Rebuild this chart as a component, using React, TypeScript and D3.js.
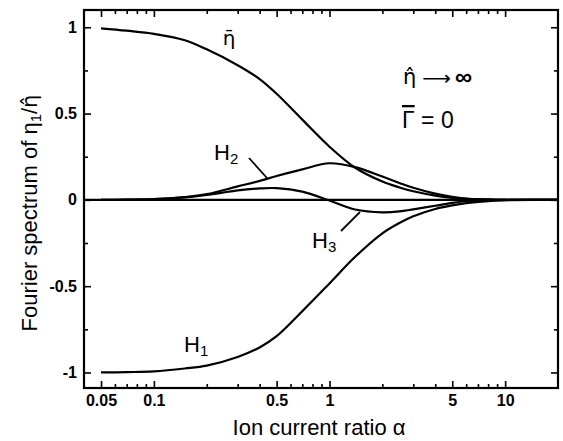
import React, { useEffect, useRef } from "react";
import * as d3 from "d3";

// ion current ratio (x), shared by all curves
const alpha = [0.05, 0.07, 0.1, 0.15, 0.2, 0.3, 0.4, 0.5, 0.7, 1, 1.4, 2, 2.5, 3, 4, 5, 6, 8, 10, 15, 20];

// Fourier spectrum components
const etaBar = [0.994, 0.98, 0.962, 0.925, 0.872, 0.78, 0.7, 0.615, 0.465, 0.308, 0.186, 0.106, 0.072, 0.05, 0.025, 0.012, 0.006, 0.002, 0.0, 0.0, 0.0];
const h1 = [-1.0, -0.998, -0.994, -0.977, -0.96, -0.91, -0.855, -0.79, -0.645, -0.484, -0.33, -0.194, -0.134, -0.095, -0.053, -0.032, -0.019, -0.007, -0.002, 0.0, 0.0];
const h2 = [0.0, 0.001, 0.004, 0.016, 0.033, 0.078, 0.11, 0.138, 0.177, 0.212, 0.19, 0.135, 0.098, 0.07, 0.036, 0.017, 0.008, 0.003, 0.001, 0.0, 0.0];
const h3 = [0.0, 0.001, 0.004, 0.014, 0.028, 0.055, 0.066, 0.068, 0.048, -0.004, -0.056, -0.072, -0.067, -0.055, -0.034, -0.017, -0.008, -0.003, -0.001, 0.0, 0.0];

const xMajor = [0.05, 0.1, 0.5, 1, 5, 10];
const xMinor = [0.06, 0.07, 0.08, 0.09, 0.2, 0.3, 0.4, 0.6, 0.7, 0.8, 0.9, 2, 3, 4, 6, 7, 8, 9];
const yMajor = [-1, -0.5, 0, 0.5, 1];
const yMinor = [-0.75, -0.25, 0.25, 0.75];

const W = 563, H = 441;
const FONT = "'Liberation Sans', 'DejaVu Sans', sans-serif";
const ACC = "'DejaVu Sans', sans-serif"; // handles combining marks

export default function App() {
  const ref = useRef<SVGSVGElement>(null);

  useEffect(() => {
    const svg = d3.select(ref.current);
    svg.selectAll("*").remove();

    const x = d3.scaleLog().domain([0.04, 20]).range([84, 558]);
    const y = d3.scaleLinear().domain([-1.09, 1.1]).range([388, 10]);
    const [x0, x1] = x.range();
    const [yb, yt] = y.range();

    const g = svg.append("g").attr("font-family", FONT);

    const styleAxis = (sel: any) => {
      sel.select(".domain").remove();
      sel.selectAll(".tick line").attr("stroke", "#000").attr("stroke-width", 1.6);
      sel.selectAll(".tick text").attr("fill", "#000").attr("font-size", 16).attr("font-weight", "bold").attr("font-family", FONT);
    };

    // major + minor ticks, all pointing inward
    g.append("g").attr("transform", `translate(0,${yb})`)
      .call(d3.axisBottom(x).tickValues(xMajor).tickSize(-7).tickPadding(7).tickFormat((d: any) => String(d)))
      .call(styleAxis);
    g.append("g").attr("transform", `translate(0,${yb})`)
      .call(d3.axisBottom(x).tickValues(xMinor).tickSize(-4).tickFormat(() => ""))
      .call(styleAxis);
    g.append("g").attr("transform", `translate(0,${yt})`)
      .call(d3.axisTop(x).tickValues(xMajor).tickSize(-7).tickFormat(() => ""))
      .call(styleAxis);
    g.append("g").attr("transform", `translate(0,${yt})`)
      .call(d3.axisTop(x).tickValues(xMinor).tickSize(-4).tickFormat(() => ""))
      .call(styleAxis);

    g.append("g").attr("transform", `translate(${x0},0)`)
      .call(d3.axisLeft(y).tickValues(yMajor).tickSize(-7).tickPadding(7).tickFormat((d: any) => String(d)))
      .call(styleAxis);
    g.append("g").attr("transform", `translate(${x0},0)`)
      .call(d3.axisLeft(y).tickValues(yMinor).tickSize(-4).tickFormat(() => ""))
      .call(styleAxis);
    g.append("g").attr("transform", `translate(${x1},0)`)
      .call(d3.axisRight(y).tickValues(yMajor).tickSize(-7).tickFormat(() => ""))
      .call(styleAxis);
    g.append("g").attr("transform", `translate(${x1},0)`)
      .call(d3.axisRight(y).tickValues(yMinor).tickSize(-4).tickFormat(() => ""))
      .call(styleAxis);

    // frame
    g.append("rect")
      .attr("x", x0).attr("y", yt)
      .attr("width", x1 - x0).attr("height", yb - yt)
      .attr("fill", "none").attr("stroke", "#000").attr("stroke-width", 2.2);

    // zero line
    g.append("line")
      .attr("x1", x0).attr("x2", x1)
      .attr("y1", y(0)).attr("y2", y(0))
      .attr("stroke", "#000").attr("stroke-width", 2.4);

    const line = d3.line<number>()
      .x((_, i) => x(alpha[i]))
      .y(d => y(d))
      .curve(d3.curveCatmullRom.alpha(0.5));

    [etaBar, h1, h2, h3].forEach(s => {
      g.append("path")
        .attr("d", line(s))
        .attr("fill", "none")
        .attr("stroke", "#000")
        .attr("stroke-width", 2.2);
    });

    // curve labels
    g.append("text").attr("x", 229).attr("y", 45).attr("text-anchor", "middle")
      .attr("font-family", ACC).attr("font-size", 20).text("\u03b7\u0304");

    const hLabel = (lx: number, ly: number, sub: string) => {
      const t = g.append("text").attr("x", lx).attr("y", ly).attr("font-size", 22);
      t.append("tspan").text("H");
      t.append("tspan").attr("font-size", 15).attr("dy", 4).text(sub);
    };
    hLabel(214, 160, "2");
    hLabel(312, 248, "3");
    hLabel(184, 352, "1");

    g.append("line").attr("x1", 249).attr("y1", 158).attr("x2", 267).attr("y2", 178)
      .attr("stroke", "#000").attr("stroke-width", 1.8);
    g.append("line").attr("x1", 341).attr("y1", 231).attr("x2", 360).attr("y2", 212)
      .attr("stroke", "#000").attr("stroke-width", 1.8);

    // parameter annotation
    const ann = g.append("text").attr("x", 403).attr("y", 84).attr("font-size", 22);
    ann.append("tspan").attr("font-family", ACC).attr("font-size", 21).text("\u03b7\u0302");
    ann.append("tspan").attr("dx", 6).attr("dy", 1)
      .attr("font-family", ACC).attr("font-size", 20).text("\u27f6");
    ann.append("tspan").attr("dx", 4).attr("font-size", 24).attr("font-weight", "bold").text("\u221e");

    const gam = g.append("text").attr("x", 402).attr("y", 128).attr("font-size", 23);
    gam.append("tspan").style("text-decoration", "overline").text("\u0393");
    gam.append("tspan").text(" = 0");

    // axis titles
    g.append("text").attr("x", 319).attr("y", 435).attr("text-anchor", "middle")
      .attr("font-size", 22).text("Ion current ratio \u03b1");

    const yl = g.append("text")
      .attr("transform", `translate(37,213) rotate(-90)`)
      .attr("text-anchor", "middle").attr("font-size", 22);
    yl.append("tspan").text("Fourier spectrum of \u03b7");
    yl.append("tspan").attr("font-size", 15).attr("dy", 4).text("1");
    yl.append("tspan").attr("dy", -4).text("/");
    yl.append("tspan").attr("font-family", ACC).attr("font-size", 21).text("\u03b7\u0302");
  }, []);

  return (
    <svg ref={ref} width={W} height={H}
      style={{ position: "absolute", left: 0, top: 0, background: "#fff" }} />
  );
}
